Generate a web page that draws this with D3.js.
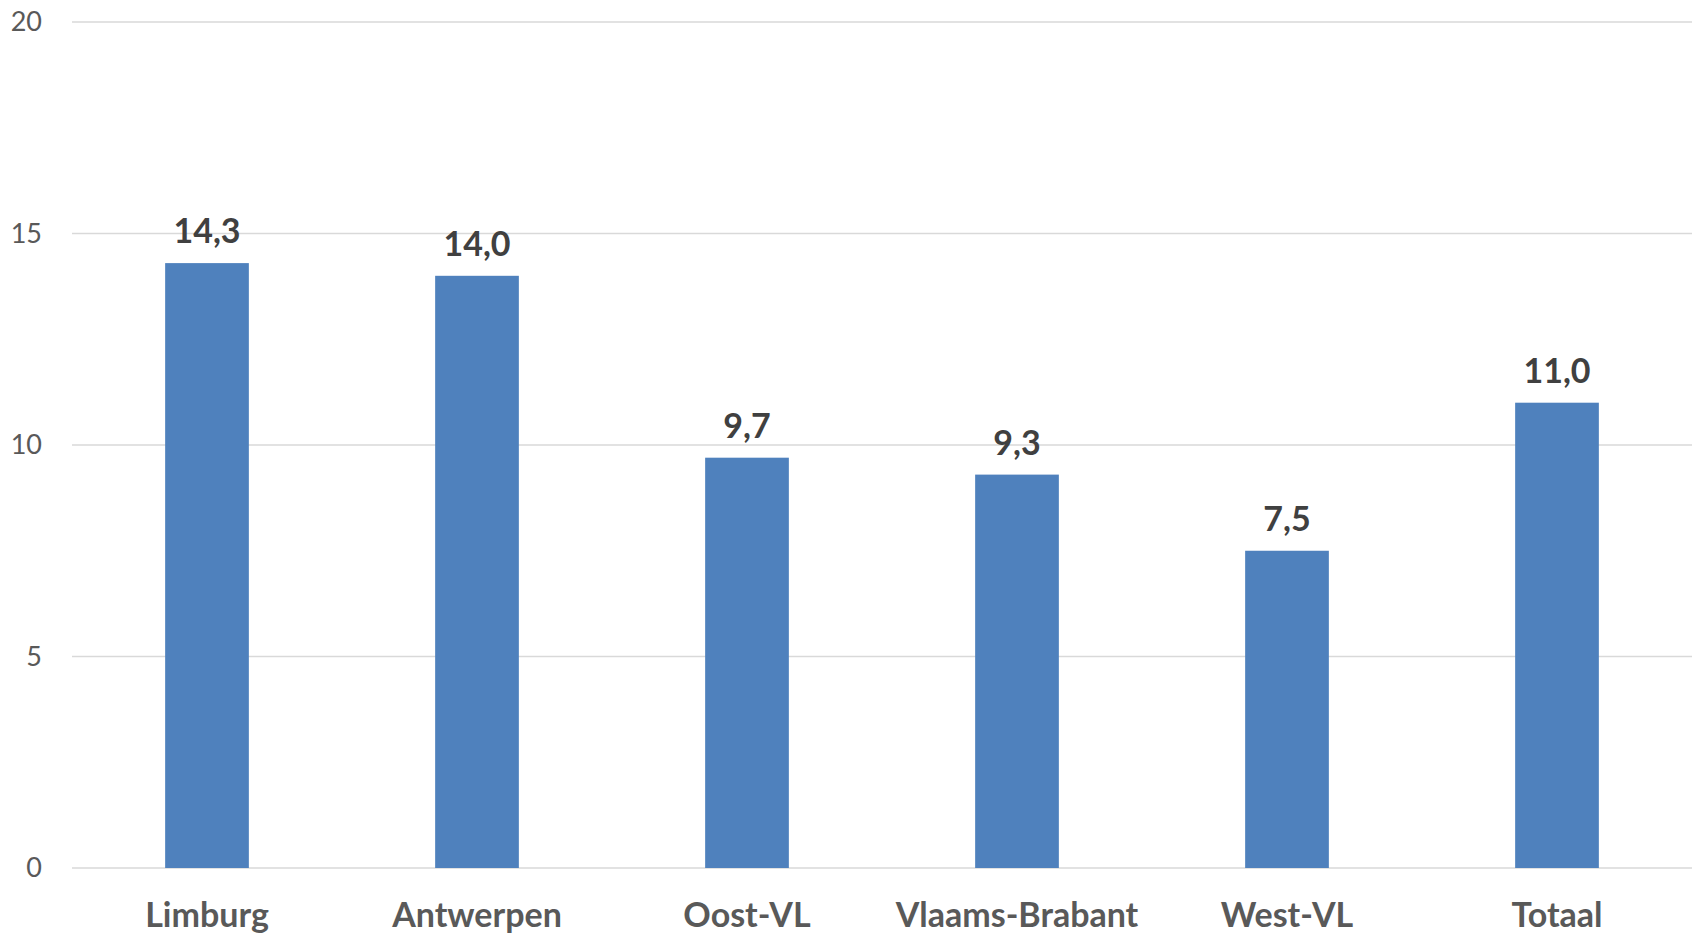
<!DOCTYPE html>
<html>
<head>
<meta charset="utf-8">
<script src="https://cdn.jsdelivr.net/npm/d3@7"></script>
<style>
  body { margin: 0; background: #fff; }
  text { font-family: Lato, "Open Sans", sans-serif; }
</style>
</head>
<body>
<div id="chart-area"></div>
<script>
// data
const provinces = ['Limburg', 'Antwerpen', 'Oost-VL', 'Vlaams-Brabant', 'West-VL', 'Totaal'];
const values = [14.3, 14.0, 9.7, 9.3, 7.5, 11.0];
const yTicks = [0, 5, 10, 15, 20];

const margin = { top: 22, right: 4, bottom: 68, left: 72 };
const width = 1696 - margin.left - margin.right;
const height = 936 - margin.top - margin.bottom;

const svg = d3.select('#chart-area')
  .append('svg')
    .attr('width', 1696)
    .attr('height', 936);

const g = svg.append('g')
  .attr('transform', `translate(${margin.left},${margin.top})`);

const x = d3.scaleBand()
  .domain(provinces)
  .range([0, width])
  .paddingInner(0.69)
  .paddingOuter(0.345);

const y = d3.scaleLinear()
  .domain([0, 20])
  .range([height, 0]);

// gridlines
g.append('g')
  .selectAll('line')
  .data(yTicks)
  .join('line')
    .attr('x1', 0)
    .attr('x2', width)
    .attr('y1', d => y(d))
    .attr('y2', d => y(d))
    .attr('stroke', '#d9d9d9')
    .attr('stroke-width', 1.5);

// y axis labels
const yAxis = g.append('g')
  .call(d3.axisLeft(y).tickValues(yTicks).tickSize(0).tickPadding(30));
yAxis.select('.domain').remove();
yAxis.selectAll('text')
  .attr('fill', '#595959')
  .attr('font-size', 27)
  .style('font-family', 'Lato, "Open Sans", sans-serif');

// bars
g.selectAll('rect.bar')
  .data(values)
  .join('rect')
    .attr('class', 'bar')
    .attr('x', (d, i) => x(provinces[i]))
    .attr('y', d => y(d))
    .attr('width', x.bandwidth())
    .attr('height', d => height - y(d))
    .attr('fill', '#4f81bd');

// value labels
const fmt = d => d3.format('.1f')(d).replace('.', ',');
g.selectAll('text.value')
  .data(values)
  .join('text')
    .attr('class', 'value')
    .attr('x', (d, i) => x(provinces[i]) + x.bandwidth() / 2)
    .attr('y', d => y(d) - 20)
    .attr('text-anchor', 'middle')
    .attr('font-size', 34)
    .attr('font-weight', 'bold')
    .attr('fill', '#404040')
    .text(fmt);

// x axis labels
const xAxis = g.append('g')
  .attr('transform', `translate(0,${height})`)
  .call(d3.axisBottom(x).tickSize(0).tickPadding(0));
xAxis.select('.domain').remove();
xAxis.selectAll('text')
  .attr('dy', null)
  .attr('y', 59)
  .attr('fill', '#595959')
  .attr('font-size', 34)
  .attr('font-weight', 'bold')
  .style('font-family', 'Lato, "Open Sans", sans-serif');
</script>
</body>
</html>
